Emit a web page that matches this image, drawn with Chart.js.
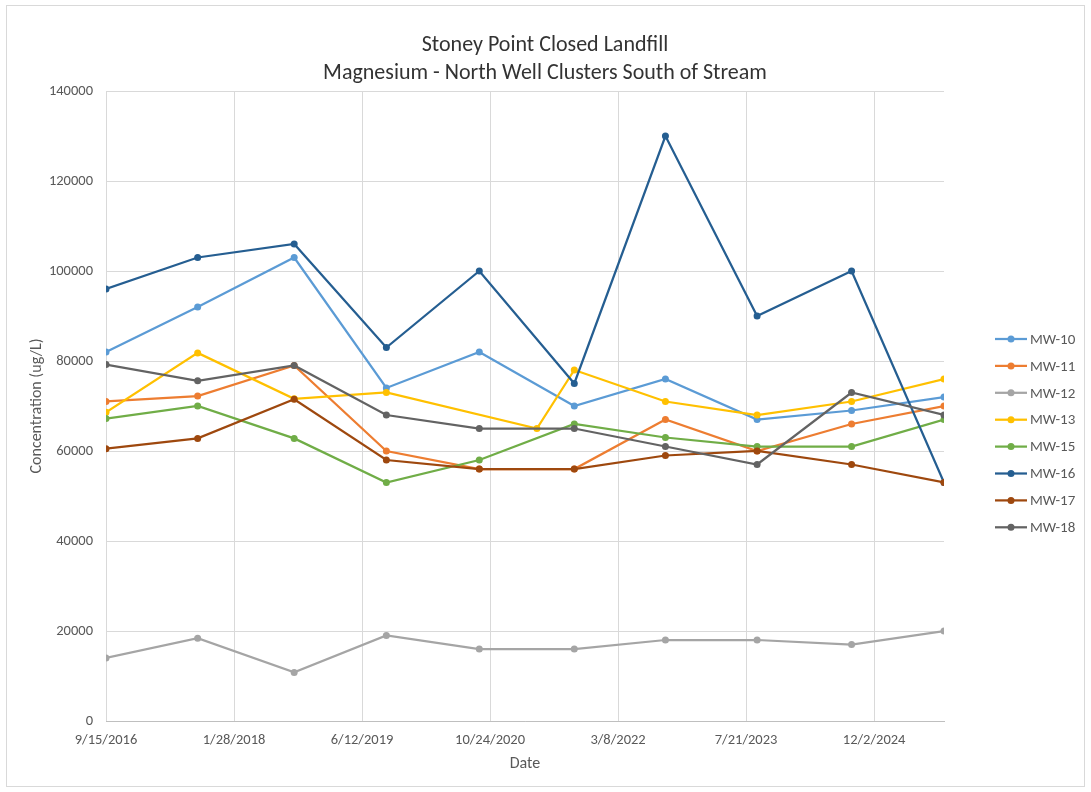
<!DOCTYPE html>
<html>
<head>
<meta charset="utf-8">
<title>Stoney Point Closed Landfill - Magnesium</title>
<script src="https://cdn.jsdelivr.net/npm/chart.js@4.4.1/dist/chart.umd.min.js"></script>
<style>
    html, body { margin: 0; padding: 0; background: #fff; }
    #wrap { position: relative; width: 1091px; height: 792px; }
</style>
</head>
<body>
<div id="wrap"><canvas id="chart" width="1091" height="792"></canvas></div>
<script>
// Sampling dates (most wells share these)
const sampleDates = ['9/15/2016', '9/8/2017', '9/20/2018', '9/15/2019', '9/12/2020',
    '9/18/2021', '9/9/2022', '9/2/2023', '9/5/2024', '9/1/2025'];
// MW-13 skipped fall 2020 and had an extra spring 2021 sample
const mw13Dates = ['9/15/2016', '9/8/2017', '9/20/2018', '9/15/2019', '4/25/2021',
    '9/18/2021', '9/9/2022', '9/2/2023', '9/5/2024', '9/1/2025'];

// Concentrations (ug/L)
const mw10 = [82000, 92000, 103000, 74000, 82000, 70000, 76000, 67000, 69000, 72000];
const mw11 = [71000, 72200, 79000, 60000, 56000, 56000, 67000, 60000, 66000, 70000];
const mw12 = [14000, 18400, 10800, 19000, 16000, 16000, 18000, 18000, 17000, 20000];
const mw13 = [68600, 81800, 71600, 73000, 65000, 78000, 71000, 68000, 71000, 76000];
const mw15 = [67200, 70000, 62800, 53000, 58000, 66000, 63000, 61000, 61000, 67000];
const mw16 = [96000, 103000, 106000, 83000, 100000, 75000, 130000, 90000, 100000, 53000];
const mw17 = [60500, 62800, 71500, 58000, 56000, 56000, 59000, 60000, 57000, 53000];
const mw18 = [79200, 75600, 79000, 68000, 65000, 65000, 61000, 57000, 73000, 68000];

// Axis ticks
const xTickLabels = ['9/15/2016', '1/28/2018', '6/12/2019', '10/24/2020', '3/8/2022', '7/21/2023', '12/2/2024'];
const yTicks = [0, 20000, 40000, 60000, 80000, 100000, 120000, 140000];

const seriesNames = ['MW-10', 'MW-11', 'MW-12', 'MW-13', 'MW-15', 'MW-16', 'MW-17', 'MW-18'];
const seriesValues = [mw10, mw11, mw12, mw13, mw15, mw16, mw17, mw18];
const seriesDates = [sampleDates, sampleDates, sampleDates, mw13Dates, sampleDates, sampleDates, sampleDates, sampleDates];
const seriesColors = ['#5b9bd5', '#ed7d31', '#a5a5a5', '#ffc000', '#70ad47', '#255e91', '#9e480e', '#636363'];

const FONT = 'Carlito, "Liberation Sans", Arial, sans-serif';

// days since epoch for an m/d/yyyy string
function dayNum(str) {
    const [m, d, y] = str.split('/').map(Number);
    return Date.UTC(y, m - 1, d) / 86400000;
}
const startDay = dayNum(sampleDates[0]);
const endDay = dayNum(sampleDates[sampleDates.length - 1]);

function fmtDay(v) {
    const dt = new Date((startDay + v) * 86400000);
    return (dt.getUTCMonth() + 1) + '/' + dt.getUTCDate() + '/' + dt.getUTCFullYear();
}

const datasets = seriesNames.map((name, i) => ({
    label: name,
    data: seriesValues[i].map((v, j) => ({ x: dayNum(seriesDates[i][j]) - startDay, y: v })),
    borderColor: seriesColors[i],
    backgroundColor: seriesColors[i],
    borderWidth: 2.25,
    pointRadius: 3.5,
    pointBorderWidth: 0,
    tension: 0,
    // excel paints later series on top
    order: seriesNames.length - i
}));

// Frame, title and legend
const decorPlugin = {
    id: 'decor',
    beforeDraw(chart) {
        const c = chart.ctx;
        c.save();
        c.fillStyle = '#fff';
        c.fillRect(0, 0, chart.width, chart.height);
        c.strokeStyle = '#d9d9d9';
        c.lineWidth = 1;
        c.strokeRect(6.5, 5.5, 1078, 781);
        c.restore();
    },
    afterDraw(chart) {
        const c = chart.ctx;
        c.save();
        c.fillStyle = '#333';
        c.font = '22px ' + FONT;
        c.textAlign = 'center';
        c.textBaseline = 'middle';
        c.fillText('Stoney Point Closed Landfill', 545, 45);
        c.fillText('Magnesium - North Well Clusters South of Stream', 545, 73);

        c.textAlign = 'left';
        c.font = '15px ' + FONT;
        seriesNames.forEach((name, i) => {
            const y = 339 + i * 26.9;
            c.strokeStyle = seriesColors[i];
            c.lineWidth = 2.25;
            c.beginPath();
            c.moveTo(995, y);
            c.lineTo(1027, y);
            c.stroke();
            c.fillStyle = seriesColors[i];
            c.beginPath();
            c.arc(1011, y, 3.5, 0, Math.PI * 2);
            c.fill();
            c.fillStyle = '#595959';
            c.fillText(name, 1030, y + 1);
        });
        c.restore();
    }
};

new Chart(document.getElementById('chart'), {
    type: 'line',
    data: { datasets },
    options: {
        responsive: false,
        animation: false,
        layout: { padding: { left: 27, top: 91, right: 147, bottom: 14 } },
        plugins: {
            legend: { display: false },
            title: { display: false },
            tooltip: { enabled: false }
        },
        scales: {
            x: {
                type: 'linear',
                min: 0,
                max: endDay - startDay,
                afterBuildTicks: (scale) => {
                    scale.ticks = xTickLabels.map(l => ({ value: dayNum(l) - startDay }));
                },
                afterFit: (scale) => { scale.height = 57; },
                ticks: {
                    autoSkip: false,
                    maxRotation: 0,
                    padding: 11,
                    color: '#595959',
                    font: { family: FONT, size: 14.5 },
                    callback: (v) => fmtDay(v)
                },
                grid: { color: '#d9d9d9', drawTicks: false },
                border: { color: '#bfbfbf' },
                title: {
                    display: true,
                    text: 'Date',
                    color: '#595959',
                    font: { family: FONT, size: 16 },
                    padding: { top: 0, bottom: 4 }
                }
            },
            y: {
                min: 0,
                max: 140000,
                afterBuildTicks: (scale) => {
                    scale.ticks = yTicks.map(v => ({ value: v }));
                },
                afterFit: (scale) => { scale.width = 79; },
                ticks: {
                    padding: 13,
                    color: '#595959',
                    font: { family: FONT, size: 14.5 },
                    callback: (v) => String(v)
                },
                grid: { color: '#d9d9d9', drawTicks: false },
                border: { display: false },
                title: {
                    display: true,
                    text: 'Concentration (ug/L)',
                    color: '#595959',
                    font: { family: FONT, size: 16 },
                    padding: { top: 0, bottom: 0 }
                }
            }
        }
    },
    plugins: [decorPlugin]
});
</script>
</body>
</html>
